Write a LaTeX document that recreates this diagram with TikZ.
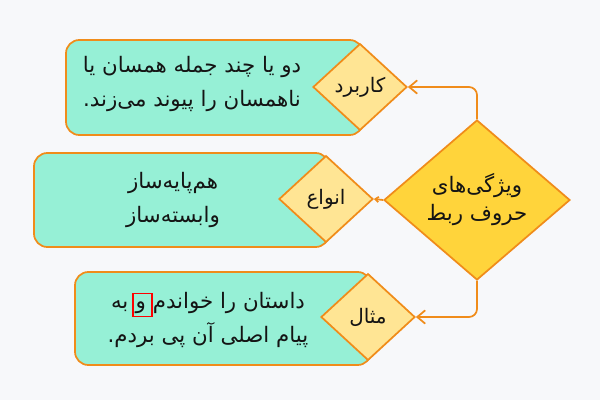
\documentclass[tikz,border=0pt]{standalone}
\usepackage{fontspec}
\usetikzlibrary{shapes.geometric,arrows.meta}
\TeXXeTstate=1
\newfontfamily\fa[Script=Arabic]{DejaVu Sans}
\definecolor{bg}{HTML}{F7F8FA}
\definecolor{boxfill}{HTML}{96F0D6}
\definecolor{edge}{HTML}{F08C1A}
\definecolor{smallfill}{HTML}{FFE594}
\definecolor{mainfill}{HTML}{FFD43B}
\definecolor{ink}{HTML}{141414}
\newcommand\redmark[1]{{\setlength\fboxsep{0pt}\setlength\fboxrule{1.2pt}\color{red}\fbox{\color{ink}\rule[-5pt]{0pt}{16pt}\hspace{1.5pt}#1\hspace{4pt}}}}
\tikzset{
  px/.style={x=0.75pt,y=-0.75pt},
  infobox/.style={draw=edge, fill=boxfill, line width=1.3pt, rounded corners=10pt},
  tag/.style={diamond, draw=edge, fill=smallfill, line width=1.3pt, inner sep=0pt,
    minimum width=70.5pt, minimum height=65pt, text=ink, font=\fa\fontsize{15}{20}\selectfont},
  hub/.style={diamond, draw=edge, fill=mainfill, line width=1.3pt, inner sep=0pt,
    minimum width=139.5pt, minimum height=120pt, text=ink, align=center,
    font=\fa\fontsize{16}{21}\selectfont},
  boxtext/.style={text=ink, align=center, font=\fa\fontsize{16}{25}\selectfont},
  arr/.style={draw=edge, line width=1.3pt, rounded corners=6pt, -{Straight Barb[length=6pt,width=10pt,line width=1.3pt]}},
  arrsmall/.style={draw=edge, line width=1.3pt, -{Straight Barb[length=2.5pt,width=4pt]}}
}
\begin{document}
\begin{tikzpicture}[px]
\fill[bg] (0,0) rectangle (600,400);
\useasboundingbox (0,0) rectangle (600,400);
% boxes
\path[infobox] (66,40) rectangle (363,135);
\path[infobox] (34,153) rectangle (329,247);
\path[infobox] (75,272) rectangle (371,365);
% box texts
\node[boxtext] (t1) at (192,84) {\beginR دو یا چند جمله همسان یا\endR\\\beginR ناهمسان را پیوند می‌زند.\endR};
\node[boxtext] (t2) at (173,200) {\beginR هم‌پایه‌ساز\endR\\\beginR وابسته‌ساز\endR};
\node[boxtext] (t3) at (208,320) {\beginR به\endR\,\redmark{\beginR و\endR}\beginR داستان را خواندم\endR\\\beginR پیام اصلی آن پی بردم.\endR};
% small diamonds
\node[tag] (d1) at (360,87) {\beginR کاربرد\endR};
\node[tag] (d2) at (326,199) {\beginR انواع\endR};
\node[tag] (d3) at (368,317) {\beginR مثال\endR};
% main diamond
\node[hub] (m) at (477,200) {\beginR ویژگی‌های\endR\\\beginR حروف ربط\endR};
% connectors
\draw[arr] (m.north) |- (d1.east);
\draw[arrsmall] (m.west) -- (d2.east);
\draw[arr] (m.south) |- (d3.east);
\end{tikzpicture}
\end{document}
